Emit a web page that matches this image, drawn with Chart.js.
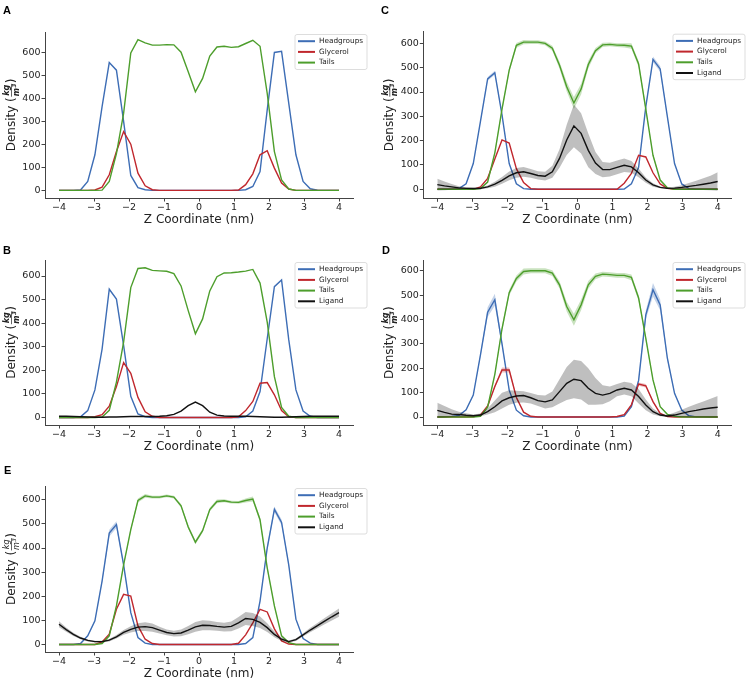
<!DOCTYPE html>
<html>
<head>
<meta charset="utf-8">
<script src="https://cdn.jsdelivr.net/npm/chart.js@4.4.0/dist/chart.umd.min.js"></script>
<style>
  body { margin: 0; background: #fff; width: 747px; height: 681px; position: relative; overflow: hidden; }
  canvas { position: absolute; }
</style>
</head>
<body>
<canvas id="cA" width="374" height="228" style="left:0;top:0"></canvas>
<canvas id="cC" width="373" height="228" style="left:374px;top:0"></canvas>
<canvas id="cB" width="374" height="228" style="left:0;top:225px"></canvas>
<canvas id="cD" width="373" height="228" style="left:374px;top:225px"></canvas>
<canvas id="cE" width="374" height="231" style="left:0;top:450px"></canvas>
<script>
// z grid (nm), 40 bins from -4 to 4
const Z = [-4.000,-3.795,-3.590,-3.385,-3.179,-2.974,-2.769,-2.564,-2.359,-2.154,
           -1.949,-1.744,-1.538,-1.333,-1.128,-0.923,-0.718,-0.513,-0.308,-0.103,
            0.103, 0.308, 0.513, 0.718, 0.923, 1.128, 1.333, 1.538, 1.744, 1.949,
            2.154, 2.359, 2.564, 2.769, 2.974, 3.179, 3.385, 3.590, 3.795, 4.000];
const X_TICKS = [-4, -3, -2, -1, 0, 1, 2, 3, 4];
const Y_TICKS = [0, 100, 200, 300, 400, 500, 600];
const NAMES = ['Headgroups', 'Glycerol', 'Tails', 'Ligand'];

// Panel A
const A_HEAD  = [0,0,0,2,39,155,364,556,523,300, 65,12,3,0,0,0,0,0,0,0, 0,0,0,0,0,0,3,17,82,350, 600,605,380,155,39,7,1,0,0,0];
const A_GLY   = [0,0,0,0,0,2,14,68,169,256, 201,75,20,3,0,0,0,0,0,0, 0,0,0,0,0,2,25,72,155,173, 97,32,6,0,0,0,0,0,0,0];
const A_TAILS = [0,0,0,0,0,0,1,39,160,335, 598,656,642,632,632,634,633,601,516,429, 487,584,624,627,622,625,639,653,627,422, 169,46,6,0,0,0,0,0,0,0];

// Panel B
const B_HEAD  = [0,0,0,3,29,117,290,544,502,306, 90,15,3,0,0,0,0,0,0,0, 0,0,0,0,0,0,3,27,110,334, 555,583,330,117,27,5,0,0,0,0];
const B_GLY   = [0,0,0,0,0,3,12,48,131,233, 187,85,24,5,0,0,0,0,0,0, 0,0,0,0,0,3,29,68,145,148, 96,29,3,0,0,0,0,0,0,0];
const B_TAILS = [0,0,0,0,0,0,2,30,150,320, 551,632,635,624,622,620,610,558,453,355, 418,537,597,613,614,617,621,628,570,404, 173,43,5,0,0,0,0,0,0,0];
const B_LIG   = [5,5,4,3,2,1,1,2,2,3, 4,4,4,4,5,7,13,27,50,65, 50,22,10,6,5,5,5,4,3,2, 1,1,2,3,4,5,5,5,5,5];

// Panel C
const C_HEAD     = [0,0,0,3,23,106,279,454,479,306, 106,23,3,0,0,0,0,0,0,0, 0,0,0,0,0,0,1,23,90,340, 534,495,299,106,22,3,0,0,0,0];
const C_HEAD_SD  = [0,0,0,0,1,2,4,8,8,5, 2,1,0,0,0,0,0,0,0,0, 0,0,0,0,0,0,0,1,3,6, 12,12,6,2,1,0,0,0,0,0];
const C_GLY      = [0,0,0,0,0,0,10,45,125,203, 190,85,28,3,0,0,0,0,0,0, 0,0,0,0,0,0,25,65,140,133, 68,22,4,0,0,0,0,0,0,0];
const C_TAILS    = [0,0,0,0,0,0,3,30,150,330, 490,592,605,605,605,600,580,510,422,355, 412,513,570,594,596,593,592,589,515,330, 140,38,6,0,0,0,0,0,0,0];
const C_TAILS_SD = [0,0,0,0,0,0,1,3,6,9, 10,10,9,8,8,8,10,14,20,25, 22,16,11,9,8,8,9,11,13,10, 6,3,1,0,0,0,0,0,0,0];
const C_LIG      = [19,14,10,6,4,3,4,10,21,37, 55,68,72,65,57,54,72,127,203,261, 230,160,108,81,81,90,99,92,68,38, 18,8,4,5,8,12,16,21,26,32];
const C_LIG_HI   = [43,32,22,13,8,6,8,16,31,51, 73,88,92,83,74,72,97,165,265,349, 313,229,153,112,109,118,127,116,86,49, 25,12,7,10,17,26,35,45,56,70];
const C_LIG_LO   = [-5,-4,-2,-1,0,0,0,4,11,23, 37,48,52,47,40,36,47,89,141,173, 147,91,63,50,53,62,71,68,50,27, 11,4,1,0,-1,-2,-3,-3,-4,-6];

// Panel D
const D_HEAD     = [0,0,2,6,30,90,255,430,481,300, 110,28,5,0,0,0,0,0,0,0, 0,0,0,0,0,0,4,42,150,419, 522,460,241,97,29,5,0,0,0,0];
const D_HEAD_SD  = [0,0,0,0,1,3,8,20,25,12, 4,1,0,0,0,0,0,0,0,0, 0,0,0,0,0,0,0,2,8,18, 28,22,10,4,1,0,0,0,0,0];
const D_GLY      = [0,0,0,0,0,1,8,45,125,193, 193,80,20,3,0,0,0,0,0,0, 0,0,0,0,0,2,10,50,135,128, 63,15,2,0,0,0,0,0,0,0];
const D_GLY_SD   = [0,0,0,0,0,0,1,3,6,10, 10,5,2,0,0,0,0,0,0,0, 0,0,0,0,0,0,1,3,7,7, 4,1,0,0,0,0,0,0,0,0];
const D_TAILS    = [0,0,0,0,0,0,3,40,175,362, 510,568,597,600,600,600,590,542,453,399, 460,542,577,586,584,581,581,573,488,323, 152,42,11,3,0,0,0,0,0,0];
const D_TAILS_SD = [0,0,0,0,0,0,1,3,8,12, 12,12,12,10,10,10,12,15,20,25, 22,16,12,10,10,10,10,12,12,10, 7,3,1,0,0,0,0,0,0,0];
const D_LIG      = [27,19,12,10,7,5,8,22,42,66, 79,86,88,79,67,62,70,104,138,155, 149,118,97,90,97,111,118,111,84,49, 22,8,4,8,15,22,27,33,37,40];
const D_LIG_HI   = [58,45,32,22,15,10,14,35,68,100, 110,108,106,98,90,88,105,155,205,235, 230,200,160,130,125,135,145,140,115,72, 35,14,8,18,30,42,53,64,75,86];
const D_LIG_LO   = [-3,-2,0,2,2,2,3,10,20,35, 50,58,60,55,45,35,40,55,70,77, 72,50,50,52,65,85,92,85,55,28, 10,3,1,0,0,-1,-2,-2,-3,-3];

// Panel E
const E_HEAD     = [0,0,0,4,36,98,263,462,497,330, 132,29,6,0,0,0,0,0,0,0, 0,0,0,0,0,0,4,29,180,400, 560,506,330,105,25,6,0,0,0,0];
const E_HEAD_SD  = [0,0,0,0,1,3,8,14,14,8, 3,1,0,0,0,0,0,0,0,0, 0,0,0,0,0,0,0,1,5,10, 12,12,8,3,1,0,0,0,0,0];
const E_GLY      = [0,0,0,0,0,0,11,43,146,208, 201,77,22,4,0,0,0,0,0,0, 0,0,0,0,0,5,40,90,146,135, 65,15,2,0,0,0,0,0,0,0];
const E_TAILS    = [0,0,0,0,0,0,4,36,160,330, 476,597,616,611,611,616,611,575,487,424, 472,559,593,596,590,589,597,603,517,318, 160,36,8,0,0,0,0,0,0,0];
const E_TAILS_SD = [0,0,0,0,0,0,1,2,5,7, 8,8,8,6,6,6,6,7,8,8, 8,8,8,6,6,6,8,10,10,8, 5,2,1,0,0,0,0,0,0,0];
const E_LIG      = [84,62,42,27,17,12,12,18,32,50, 63,72,74,70,60,50,45,48,60,73, 80,79,75,72,75,90,108,104,92,70, 42,22,12,20,40,60,78,97,115,132];
const E_LIG_HI   = [96,71,49,32,21,16,16,23,39,60, 76,88,92,87,74,62,57,62,77,93, 101,99,93,90,95,114,135,131,116,88, 54,29,17,25,47,69,89,110,130,149];
const E_LIG_LO   = [72,53,35,22,13,8,8,13,25,40, 50,56,56,53,46,38,33,34,43,53, 59,59,57,54,55,66,81,77,68,52, 30,15,7,15,33,51,67,84,100,115];

const COLORS = ['#3d6db5', '#c0272d', '#4d9e2c', '#111111'];
const BANDS  = ['rgba(61,109,181,0.3)', 'rgba(192,39,45,0.3)', 'rgba(77,158,44,0.3)', 'rgba(0,0,0,0.25)'];

const pts = vals => Z.map((z, i) => ({x: z, y: vals[i]}));
const fmt = v => v < 0 ? '\u2212' + Math.abs(v) : String(v);

// axis titles, legend, panel letter
const decor = {
  id: 'decor',
  afterDraw(chart, args, o) {
    const ctx = chart.ctx, ca = chart.chartArea;
    ctx.save();
    ctx.fillStyle = '#000';
    ctx.font = 'bold 11px "Liberation Sans", Arial, sans-serif';
    ctx.textBaseline = 'alphabetic';
    ctx.textAlign = 'left';
    ctx.fillText(o.letter, o.lx, o.ly);

    ctx.fillStyle = '#222';
    ctx.font = '12px "DejaVu Sans"';
    ctx.textAlign = 'center';
    ctx.fillText('Z Coordinate (nm)', (ca.left + ca.right) / 2, ca.bottom + 24.5);

    // y title with kg/m^3 fraction
    ctx.save();
    ctx.translate(ca.left - 34.5, (ca.top + ca.bottom) / 2);
    ctx.rotate(-Math.PI / 2);
    ctx.textAlign = 'left';
    const main = '12px "DejaVu Sans"';
    const frac = (o.boldFrac ? 'bold ' : '') + 'italic 8px "DejaVu Sans"';
    ctx.font = main;
    const s1 = 'Density (';
    const w1 = ctx.measureText(s1).width, w2 = ctx.measureText(')').width;
    ctx.font = frac;
    const numW = ctx.measureText('kg').width;
    const mW = ctx.measureText('m').width;
    const denW = mW + 3.5;
    const fw = Math.max(numW, denW) + 2;
    const total = w1 + fw + w2;
    const x = -total / 2;
    const base = 4.4, bar = 1.0;
    ctx.font = main;
    ctx.fillText(s1, x, base);
    const xf = x + w1 + fw / 2;
    ctx.strokeStyle = '#222';
    ctx.lineWidth = 0.7;
    ctx.beginPath(); ctx.moveTo(xf - fw / 2 + 0.5, bar); ctx.lineTo(xf + fw / 2 - 0.5, bar); ctx.stroke();
    ctx.font = frac;
    ctx.textAlign = 'center';
    ctx.fillText('kg', xf, bar - 2.2);
    ctx.textAlign = 'left';
    const mx = xf - denW / 2;
    ctx.fillText('m', mx, bar + 7.2);
    ctx.font = (o.boldFrac ? 'bold ' : '') + 'italic 5.5px "DejaVu Sans"';
    ctx.fillText('3', mx + mW + 0.3, bar + 4.6);
    ctx.font = main;
    ctx.fillText(')', x + w1 + fw, base);
    ctx.restore();

    // legend
    const n = o.entries;
    const bw = 72, bh = n === 3 ? 35 : 45.5;
    const bx = ca.right + o.legDx - bw, by = ca.top + 2.5;
    ctx.fillStyle = 'rgba(255,255,255,0.85)';
    ctx.strokeStyle = '#d4d4d4';
    ctx.lineWidth = 0.8;
    ctx.beginPath();
    ctx.roundRect(bx, by, bw, bh, 2);
    ctx.fill(); ctx.stroke();
    ctx.font = '7.3px "DejaVu Sans"';
    ctx.textBaseline = 'middle';
    ctx.textAlign = 'left';
    for (let i = 0; i < n; i++) {
      const y = by + 6.7 + i * 10.7;
      ctx.strokeStyle = COLORS[i];
      ctx.lineWidth = 2;
      ctx.beginPath(); ctx.moveTo(bx + 3, y); ctx.lineTo(bx + 20, y); ctx.stroke();
      ctx.fillStyle = '#222';
      ctx.fillText(NAMES[i], bx + 24, y);
    }
    ctx.restore();
  }
};

function makePanel(id, p, series) {
  const datasets = [];
  series.forEach((s, i) => {
    const ord = 2 * (4 - i);
    let lo = s.lo, hi = s.hi;
    if (s.sd) { lo = s.vals.map((v, k) => v - s.sd[k]); hi = s.vals.map((v, k) => v + s.sd[k]); }
    if (lo) {
      datasets.push({data: pts(hi), borderWidth: 0, pointRadius: 0, fill: '+1', backgroundColor: BANDS[i], order: ord});
      datasets.push({data: pts(lo), borderWidth: 0, pointRadius: 0, fill: false, order: ord});
    }
    datasets.push({data: pts(s.vals), borderColor: COLORS[i], borderWidth: 1.4, pointRadius: 0, fill: false, order: ord - 1});
  });
  const tickFont = {size: 9.5, family: 'DejaVu Sans'};
  new Chart(document.getElementById(id), {
    type: 'line',
    data: {datasets},
    options: {
      responsive: false,
      animation: false,
      layout: {padding: {left: 0, top: p.top, right: p.right, bottom: 0}},
      plugins: {legend: {display: false}, tooltip: {enabled: false}, decor: p.decor},
      scales: {
        x: {
          type: 'linear', min: -4.4, max: 4.4,
          afterBuildTicks: a => { a.ticks = X_TICKS.map(v => ({value: v})); },
          afterFit: a => { a.height = p.xh; },
          grid: {drawOnChartArea: false, drawTicks: true, tickLength: 3.5, color: '#444'},
          border: {display: true, color: '#444', width: 1},
          ticks: {font: tickFont, color: '#222', padding: 0.5, maxRotation: 0, callback: fmt}
        },
        y: {
          type: 'linear', min: p.ymin, max: p.ymax,
          afterBuildTicks: a => { a.ticks = Y_TICKS.map(v => ({value: v})); },
          afterFit: a => { a.width = p.yw; },
          grid: {drawOnChartArea: false, drawTicks: true, tickLength: 3.5, color: '#444'},
          border: {display: true, color: '#444', width: 1},
          ticks: {font: tickFont, color: '#222', padding: 1, callback: fmt}
        }
      }
    },
    plugins: [decor]
  });
}

makePanel('cA', {top: 32, right: 21, yw: 45, xh: 30, ymin: -33, ymax: 689,
  decor: {letter: 'A', lx: 3, ly: 13.5, entries: 3, legDx: 14, boldFrac: true}},
  [{vals: A_HEAD}, {vals: A_GLY}, {vals: A_TAILS}]);

makePanel('cB', {top: 35, right: 21, yw: 45, xh: 28, ymin: -32, ymax: 668,
  decor: {letter: 'B', lx: 3, ly: 28.5, entries: 4, legDx: 14, boldFrac: true}},
  [{vals: B_HEAD}, {vals: B_GLY}, {vals: B_TAILS}, {vals: B_LIG}]);

makePanel('cC', {top: 31.7, right: 15.3, yw: 49.3, xh: 29.7, ymin: -37, ymax: 648,
  decor: {letter: 'C', lx: 7, ly: 14, entries: 4, legDx: 13.3, boldFrac: true}},
  [{vals: C_HEAD, sd: C_HEAD_SD}, {vals: C_GLY}, {vals: C_TAILS, sd: C_TAILS_SD},
   {vals: C_LIG, lo: C_LIG_LO, hi: C_LIG_HI}]);

makePanel('cD', {top: 35, right: 15.3, yw: 49.3, xh: 27.7, ymin: -34, ymax: 644,
  decor: {letter: 'D', lx: 8, ly: 29, entries: 4, legDx: 13.3, boldFrac: true}},
  [{vals: D_HEAD, sd: D_HEAD_SD}, {vals: D_GLY, sd: D_GLY_SD}, {vals: D_TAILS, sd: D_TAILS_SD},
   {vals: D_LIG, lo: D_LIG_LO, hi: D_LIG_HI}]);

makePanel('cE', {top: 36, right: 21, yw: 45, xh: 29, ymin: -31, ymax: 657,
  decor: {letter: 'E', lx: 4, ly: 24, entries: 4, legDx: 14, boldFrac: false}},
  [{vals: E_HEAD, sd: E_HEAD_SD}, {vals: E_GLY}, {vals: E_TAILS, sd: E_TAILS_SD},
   {vals: E_LIG, lo: E_LIG_LO, hi: E_LIG_HI}]);
</script>
</body>
</html>
